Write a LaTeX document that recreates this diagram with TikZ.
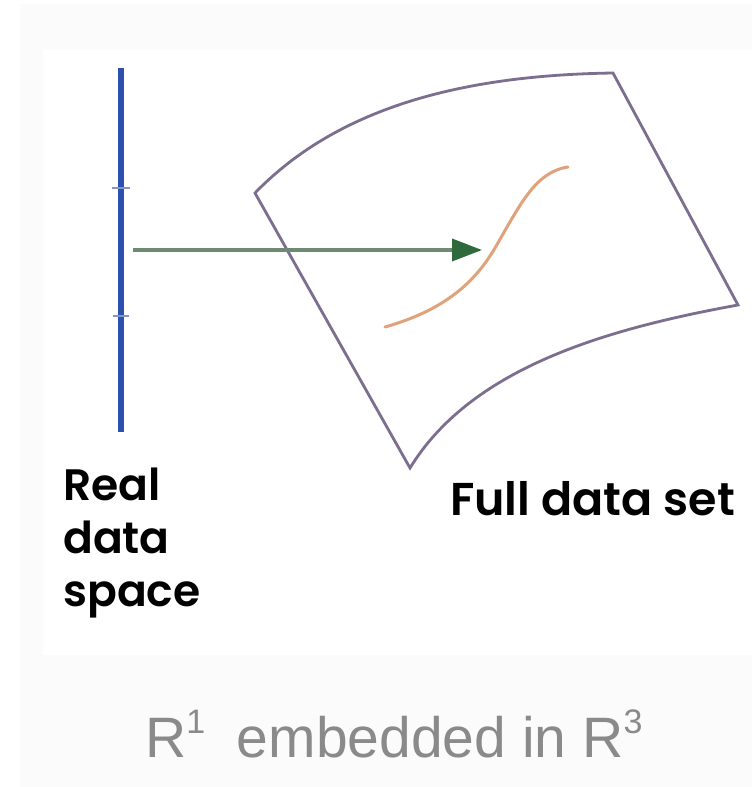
\documentclass[tikz,border=0pt]{standalone}
\usepackage{fontspec}
\setmainfont{Liberation Sans}
\newfontfamily\labelfont{Poppins SemiBold}
\usetikzlibrary{arrows.meta}
\definecolor{barblue}{HTML}{2C4FB0}
\definecolor{arrowline}{HTML}{6E8A72}
\definecolor{arrowhead}{HTML}{2E6A3C}
\definecolor{sheet}{HTML}{7C6E8E}
\definecolor{curveorange}{HTML}{E0A27A}
\definecolor{captiongrey}{HTML}{8A8A8A}
\definecolor{bgfaint}{HTML}{FBFBFB}
\newcommand{\supnum}[1]{\raisebox{0.42em}{\fontsize{34}{34}\selectfont #1}}
\begin{document}
\begin{tikzpicture}[x=1pt,y=-1pt,
  bar/.style={line width=5.5pt,barblue},
  tickmark/.style={line width=2pt,barblue!60},
  maparrow/.style={line width=3.6pt,arrowline,-{Triangle[length=30pt,width=22pt,fill=arrowhead,color=arrowhead]}},
  sheetline/.style={line width=2.8pt,sheet,line join=miter},
  embedded/.style={line width=3pt,curveorange,line cap=round},
  boldlabel/.style={font=\labelfont\fontsize{44}{53}\selectfont,align=left,inner sep=0pt,anchor=north west},
  caption/.style={font=\fontsize{57}{57}\selectfont,captiongrey,inner sep=0pt,anchor=base west}]
\useasboundingbox (0,0) rectangle (752,787);
\fill[bgfaint] (20,4) rectangle (752,787);
\fill[white] (43,50) rectangle (752,655);
% real data space bar
\coordinate (bartop) at (121,68);
\coordinate (barbot) at (121,432);
\draw[bar] (bartop) -- (barbot);
\coordinate (t1a) at (112,188); \coordinate (t1b) at (130,188);
\coordinate (t2a) at (113,316); \coordinate (t2b) at (129,316);
\draw[tickmark] (t1a) -- (t1b);
\draw[tickmark] (t2a) -- (t2b);
% sheet
\coordinate (cl) at (255,193);
\coordinate (ct) at (613,73);
\coordinate (cr) at (738,305);
\coordinate (cb) at (410,468);
\draw[sheetline] (cl) .. controls (345,100) and (480,75) .. (ct) -- (cr)
  .. controls (600,330) and (470,370) .. (cb) -- cycle;
% embedded curve
\coordinate (ea) at (385,327);
\coordinate (em) at (495,248);
\coordinate (eb) at (568,167);
\draw[embedded] (ea) .. controls (445,310) and (475,282) .. (em)
  .. controls (520,205) and (535,172) .. (eb);
% arrow
\coordinate (astart) at (133,250);
\coordinate (aend) at (482,250);
\draw[maparrow] (astart) -- (aend);
% labels
\node[boldlabel] (real) at (63,468) {Real\\data\\space};
\node[boldlabel,font=\labelfont\fontsize{46}{53}\selectfont] (full) at (450,481) {Full data set};
\node[caption] (cap) at (145,757) {R\supnum{1}\ \ embedded in R\supnum{3}};
\end{tikzpicture}
\end{document}
